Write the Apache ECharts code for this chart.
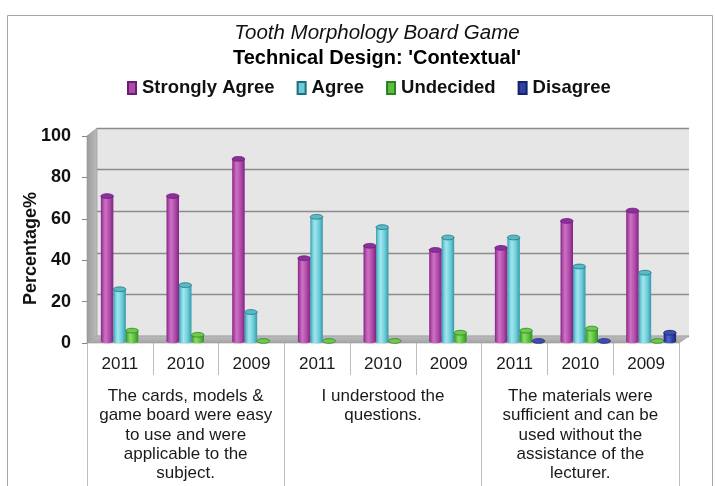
<!DOCTYPE html>
<html><head><meta charset="utf-8">
<script src="https://cdn.jsdelivr.net/npm/echarts@6/dist/echarts.min.js"></script>
<style>html,body{margin:0;padding:0;background:#fff}#c{width:715px;height:486px}</style>
</head><body><div id="c"></div>
<script>
// ---- data ----
const years = ['2011','2010','2009','2011','2010','2009','2011','2010','2009'];
const groups = [
  'The cards, models &\ngame board were easy\nto use and were\napplicable to the\nsubject.',
  'I understood the\nquestions.',
  'The materials were\nsufficient and can be\nused without the\nassistance of the\nlecturer.'
];
const seriesNames = ['Strongly Agree','Agree','Undecided','Disagree'];
const stronglyAgree = [70, 70, 88, 40, 46, 44, 45, 58, 63];
const agree         = [25, 27, 14, 60, 55, 50, 50, 36, 33];
const undecided     = [5, 3, 0, 0, 0, 4, 5, 6, 0];
const disagree      = [null, null, null, null, null, null, 0, 0, 4];
const yTicks = [0, 20, 40, 60, 80, 100];
const titleMain = 'Tooth Morphology Board Game';
const titleSub = "Technical Design: 'Contextual'";
const yName = 'Percentage%';

// ---- style ----
const FONT = '"Liberation Sans", Arial, sans-serif';
const BAR_RATIO = 0.19;
const palettes = [
  {main:'#b04aa8', dark:'#7e2482', light:'#cc72c4', top:'#8c2f9c', rim:'#6a1e78'},
  {main:'#6ccdd8', dark:'#3798a8', light:'#a2e6ee', top:'#58bcc8', rim:'#1f6f7c'},
  {main:'#5bbf3b', dark:'#34902a', light:'#8ddc6c', top:'#6cca4c', rim:'#2f7f24'},
  {main:'#2f40a2', dark:'#1b2878', light:'#5466c6', top:'#3c4eb6', rim:'#18226a'}
];
const allValues = [stronglyAgree, agree, undecided, disagree];

function makeRender(si){
  const p = palettes[si];
  return function(params, api){
    const v = api.value(1);
    if (v == null || isNaN(v)) return null;
    const c = api.value(0);
    const base = api.coord([c, 0]);
    const top = api.coord([c, v]);
    const band = api.size([1, 0])[0];
    const w = band * BAR_RATIO;
    const x0 = base[0] - 2 * w + si * w;
    const cx = x0 + w / 2;
    const ry = Math.max(2, w * 0.19);
    const grad = new echarts.graphic.LinearGradient(0, 0, 1, 0, [
      {offset:0, color:p.dark}, {offset:0.16, color:p.main}, {offset:0.36, color:p.light},
      {offset:0.7, color:p.main}, {offset:1, color:p.dark}]);
    const h = base[1] - top[1];
    const children = [];
    if (h > 0.5) {
      children.push({type:'ellipse', shape:{cx:cx, cy:base[1], rx:w/2, ry:ry}, style:{fill:grad}});
      children.push({type:'rect', shape:{x:x0, y:top[1], width:w, height:h}, style:{fill:grad}});
    }
    children.push({type:'ellipse', shape:{cx:cx, cy:top[1], rx:w/2, ry:ry},
      style:{fill:p.top, stroke:p.rim, lineWidth:0.8}});
    return {type:'group', children:children};
  };
}

const series = seriesNames.map(function(name, si){
  const data = [];
  allValues[si].forEach(function(v, i){ if (v != null) data.push([i, v]); });
  return {
    name: name, type:'custom', coordinateSystem:'cartesian2d',
    xAxisIndex:3, yAxisIndex:2, z:5,
    itemStyle:{color:palettes[si].main, borderColor:palettes[si].rim, borderWidth:1},
    encode:{x:0, y:1},
    renderItem: makeRender(si),
    data: data
  };
});

const chart = echarts.init(document.getElementById('c'));
const yMin = yTicks[0], yMax = yTicks[yTicks.length-1], yInt = yTicks[1]-yTicks[0];

chart.setOption({
  animation:false,
  textStyle:{fontFamily:FONT},
  title:[
    {text:titleMain, left:377, top:22, textAlign:'center', padding:0,
     textStyle:{fontSize:20.5, fontStyle:'italic', fontWeight:'normal', color:'#111', lineHeight:22, fontFamily:FONT}},
    {text:titleSub, left:377, top:47, textAlign:'center', padding:0,
     textStyle:{fontSize:20, fontWeight:'bold', color:'#000', lineHeight:22, fontFamily:FONT}}
  ],
  legend:{
    data:seriesNames, left:127, top:77, padding:0, icon:'rect',
    itemWidth:8, itemHeight:12, itemGap:22,
    textStyle:{fontSize:18.5, fontWeight:'bold', color:'#111', lineHeight:22, padding:[0,0,0,1], fontFamily:FONT}
  },
  grid:[
    {left:97, right:26, top:128, bottom:150, show:true, backgroundColor:'#e6e6e6', borderWidth:0},
    {left:87, right:36, top:136, bottom:143},
    {left:93, right:31, top:134, bottom:145}
  ],
  xAxis:[
    {gridIndex:0, type:'category', data:years, show:false},
    {gridIndex:1, type:'category', data:years, position:'bottom',
     axisLine:{show:false},
     axisTick:{show:true, interval:0, length:32, lineStyle:{color:'#bdbdbd'}},
     axisLabel:{interval:0, fontSize:17, lineHeight:17, margin:13, color:'#1a1a1a', fontFamily:FONT}},
    {gridIndex:1, type:'category', data:groups, position:'bottom',
     axisLine:{show:false},
     axisTick:{show:true, interval:0, length:145, lineStyle:{color:'#bdbdbd'}},
     axisLabel:{interval:0, fontSize:17, lineHeight:19.2, margin:44, color:'#1a1a1a', fontFamily:FONT}},
    {gridIndex:2, type:'category', data:years, show:false}
  ],
  yAxis:[
    {gridIndex:0, type:'value', min:yMin, max:yMax, interval:yInt,
     axisLabel:{show:false}, axisLine:{show:false}, axisTick:{show:false},
     splitLine:{show:true, lineStyle:{color:'#8c8c8c', width:1.3}}},
    {gridIndex:1, type:'value', min:yMin, max:yMax, interval:yInt,
     name:yName, nameLocation:'middle', nameGap:47, nameMoveOverlap:false,
     nameTextStyle:{fontSize:18, fontWeight:'bold', color:'#111', fontFamily:FONT, padding:[0,18,0,0]},
     axisLine:{show:true, lineStyle:{color:'#868686'}},
     axisTick:{show:true, length:5, lineStyle:{color:'#868686'}},
     axisLabel:{fontSize:18, fontWeight:'bold', color:'#111', margin:16, fontFamily:FONT},
     splitLine:{show:false}},
    {gridIndex:2, type:'value', min:yMin, max:yMax, show:false}
  ],
  graphic:[
    {type:'rect', z:-1, shape:{x:7.5, y:15.5, width:705, height:500},
     style:{fill:'none', stroke:'#a6a6a6', lineWidth:1}},
    {type:'polygon', z:1, shape:{points:[[87,343],[87,136],[97,128],[97,336]]},
     style:{fill:new echarts.graphic.LinearGradient(0,0,1,0,[{offset:0,color:'#9c9c9c'},{offset:1,color:'#bcbcbc'}]),
            stroke:'#969696', lineWidth:0.6}},
    {type:'polygon', z:1, shape:{points:[[87,343],[97,336],[689,336],[679,343]]},
     style:{fill:new echarts.graphic.LinearGradient(0,0,0,1,[{offset:0,color:'#bdbdbd'},{offset:1,color:'#a4a4a4'}]),
            stroke:'#999', lineWidth:0.6}}
  ],
  series:series
});
</script>
</body></html>
